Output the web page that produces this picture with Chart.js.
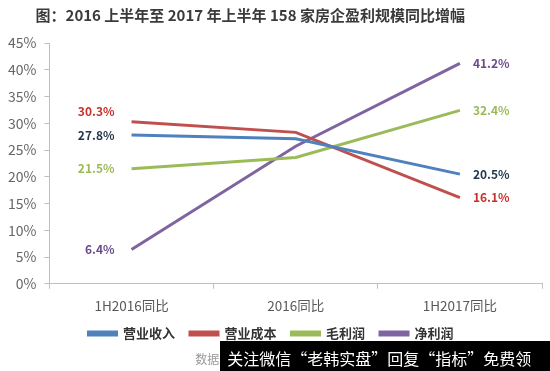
<!DOCTYPE html>
<html>
<head>
<meta charset="utf-8">
<script src="https://cdn.jsdelivr.net/npm/chart.js@4/dist/chart.umd.min.js"></script>
<style>
  html, body { margin: 0; padding: 0; background: #ffffff; }
  #wrap { width: 550px; height: 371px; position: relative; }
</style>
</head>
<body>
<div id="wrap"><canvas id="c" width="550" height="371"></canvas></div>
<script>
const titleText = "图：2016 上半年至 2017 年上半年 158 家房企盈利规模同比增幅";
const categories = ["1H2016同比", "2016同比", "1H2017同比"];
const seriesNames = ["营业收入", "营业成本", "毛利润", "净利润"];
const revenue = [27.8, 27.1, 20.5];
const cost = [30.3, 28.3, 16.1];
const grossProfit = [21.5, 23.6, 32.4];
const netProfit = [6.4, 25.7, 41.2];
const yTicks = [0, 5, 10, 15, 20, 25, 30, 35, 40, 45];
const sourceText = "数据来源";
const bannerText = "关注微信“老韩实盘”回复“指标”免费领";

const FONT = '"Noto Sans CJK SC", "Noto Sans", sans-serif';

const lineColors = ["#4f81bd", "#c0504d", "#9bbb59", "#8064a2"];
const labelColors = ["#24384f", "#c8302c", "#9bbb59", "#6a4c8c"];
const seriesData = [revenue, cost, grossProfit, netProfit];

const endLabels = {
  id: "endLabels",
  afterDatasetsDraw(chart) {
    const ctx = chart.ctx;
    ctx.save();
    ctx.font = "bold 12px " + FONT;
    ctx.textBaseline = "middle";
    chart.data.datasets.forEach((ds, i) => {
      const meta = chart.getDatasetMeta(i);
      const pts = meta.data;
      const first = pts[0], last = pts[pts.length - 1];
      const dy = ds.labelShift || [0, 0];
      ctx.fillStyle = ds.labelColor;
      ctx.textAlign = "right";
      ctx.fillText(ds.data[0].toFixed(1) + "%", first.x - 17, first.y + dy[0]);
      ctx.textAlign = "left";
      ctx.fillText(ds.data[ds.data.length - 1].toFixed(1) + "%", last.x + 13, last.y + dy[1]);
    });
    ctx.restore();
  }
};

const extras = {
  id: "extras",
  afterDraw(chart) {
    const ctx = chart.ctx;
    const W = chart.width, H = chart.height;
    ctx.save();
    ctx.font = "bold 15px " + FONT;
    ctx.fillStyle = "#3a3a3a";
    ctx.textAlign = "center";
    ctx.textBaseline = "middle";
    ctx.fillText(titleText, W * 0.455, 15);
    ctx.font = "12px " + FONT;
    ctx.fillStyle = "#9a9a9a";
    ctx.textAlign = "left";
    ctx.fillText(sourceText, W * 0.355, H - 12);
    ctx.fillStyle = "#000000";
    ctx.fillRect(W * 0.4, H - 30, W * 0.6, 30);
    ctx.font = "16px " + FONT;
    ctx.fillStyle = "#ffffff";
    ctx.fillText(bannerText, W * 0.413, H - 12);
    ctx.restore();
  }
};

new Chart(document.getElementById("c"), {
  type: "line",
  data: {
    labels: categories,
    datasets: seriesNames.map((name, i) => ({
      label: name,
      data: seriesData[i],
      borderColor: lineColors[i],
      backgroundColor: lineColors[i],
      borderWidth: 3,
      pointRadius: 0,
      pointHoverRadius: 0,
      tension: 0,
      labelColor: labelColors[i],
      labelShift: i === 1 ? [-10, 0] : [0, 0]
    }))
  },
  options: {
    responsive: false,
    animation: false,
    devicePixelRatio: 1,
    layout: { padding: { left: 0, right: 8, top: 43, bottom: 21 } },
    plugins: {
      title: { display: false },
      tooltip: { enabled: false },
      legend: {
        position: "bottom",
        labels: {
          boxWidth: 28,
          boxHeight: 3,
          padding: 15,
          color: "#333333",
          font: { family: FONT, size: 13, weight: "bold" }
        }
      }
    },
    scales: {
      x: {
        offset: true,
        grid: { offset: true, drawOnChartArea: false, drawTicks: true, tickLength: 5, color: "#bfbfbf" },
        border: { color: "#bfbfbf", width: 1 },
        ticks: { color: "#595959", font: { family: FONT, size: 13.5 }, padding: 9 },
        afterFit(axis) { axis.height -= 11; }
      },
      y: {
        min: 0,
        max: 45,
        afterBuildTicks(axis) { axis.ticks = yTicks.map(v => ({ value: v })); },
        grid: { drawOnChartArea: false, drawTicks: true, tickLength: 5, color: "#bfbfbf" },
        border: { color: "#bfbfbf", width: 1 },
        ticks: { color: "#666666", font: { family: FONT, size: 14 }, padding: 8, callback: v => v + "%" }
      }
    }
  },
  plugins: [endLabels, extras]
});
</script>
</body>
</html>
